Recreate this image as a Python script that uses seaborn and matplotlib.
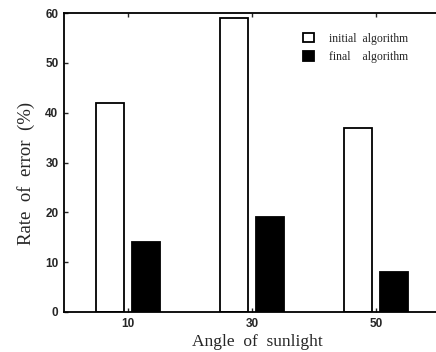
import matplotlib
matplotlib.use("Agg")
import matplotlib.pyplot as plt
import seaborn as sns
import pandas as pd

angles = ["10", "30", "50"]
initial = [42, 59, 37]
final = [14, 19, 8]
series_names = ["initial  algorithm", "final    algorithm"]
yticks = [0, 10, 20, 30, 40, 50, 60]

df = pd.DataFrame({
    "angle": angles * 2,
    "rate": initial + final,
    "algo": [series_names[0]] * 3 + [series_names[1]] * 3,
})

sns.set_theme(style="white")
plt.rcParams["font.family"] = ["Liberation Serif", "DejaVu Serif"]

fig = plt.figure(figsize=(4.36, 3.52), dpi=100)
ax = fig.add_axes([64 / 436, 40 / 352, 372 / 436, 299 / 352])

sns.barplot(data=df, x="angle", y="rate", hue="algo", order=angles,
            hue_order=series_names, palette=["white", "black"],
            edgecolor="black", linewidth=1.3, width=0.58, gap=0.2,
            ax=ax, legend=True)

ax.set_xlim(-0.516, 2.484)
ax.set_ylim(0, 60)
ax.set_yticks(yticks)
ax.set_yticklabels([str(v) for v in yticks], family="Liberation Sans",
                   fontsize=8.5, fontweight="bold")
ax.set_xticklabels(angles, family="Liberation Sans", fontsize=8.5, fontweight="bold")
ax.tick_params(axis="y", direction="in", length=3, width=1, pad=4, left=True)
ax.tick_params(axis="x", direction="in", length=3, width=1, pad=4, bottom=True, top=True)

for s in ["left", "bottom", "top"]:
    ax.spines[s].set_visible(True)
    ax.spines[s].set_color("black")
    ax.spines[s].set_linewidth(1.3)
ax.spines["right"].set_visible(False)

ax.set_xlabel("Angle  of  sunlight", fontsize=12.5)
ax.set_ylabel("Rate  of  error  (%)", fontsize=13.5)
ax.xaxis.set_label_coords(0.52, -0.075)
ax.yaxis.set_label_coords(-0.078, 0.465)

leg = ax.legend(loc="upper left", bbox_to_anchor=(0.615, 0.97), frameon=False,
                fontsize=8.5, handlelength=0.9, handleheight=0.9,
                handletextpad=1.3, labelspacing=0.55)

fig.savefig("out.png", dpi=100)
